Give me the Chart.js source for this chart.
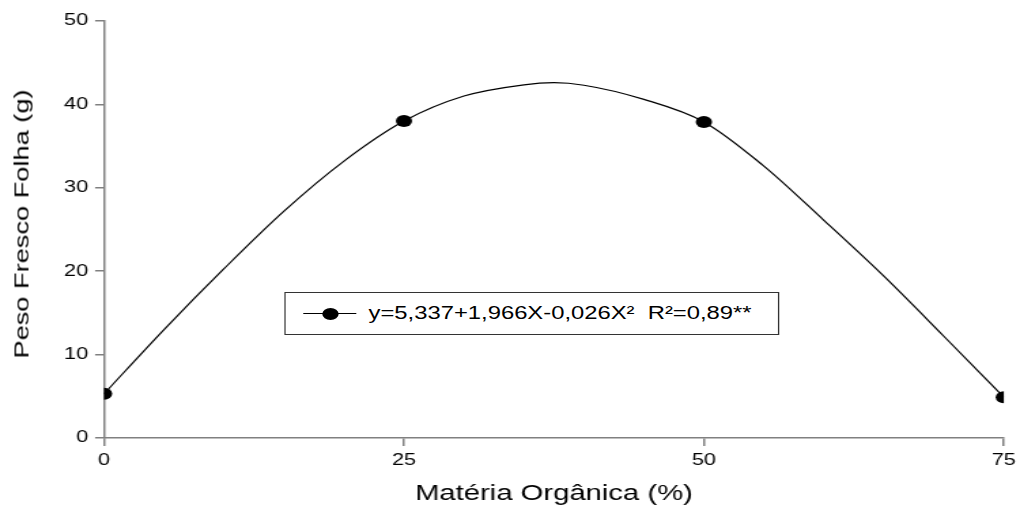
<!DOCTYPE html>
<html>
<head>
<meta charset="utf-8">
<script src="https://cdn.jsdelivr.net/npm/chart.js@4.4.1/dist/chart.umd.min.js"></script>
<style>
    html, body { margin: 0; padding: 0; background: #fff; overflow: hidden; }
    /* a figura original é esticada na horizontal */
    #wrap {
        position: absolute; left: 0; top: 0;
        width: 752px; height: 510px;
        transform: scaleX(1.36); transform-origin: 0 0;
    }
    #legend {
        position: absolute; left: 209px; top: 292px;
        width: 362px; height: 41px;
        border: 1px solid #333; background: #fff;
        font-family: "Liberation Sans", Arial, sans-serif; font-size: 17.5px; color: #000;
    }
    #legend .line { position: absolute; left: 13px; top: 20px; width: 39px; height: 1px; background: #000; }
    #legend .dot  { position: absolute; left: 27px; top: 15px; width: 12px; height: 12px; border-radius: 50%; background: #000; }
    #legend .txt  { position: absolute; left: 61px; top: 10px; white-space: nowrap; }
    /* título do eixo Y: mesma fonte larga, girada */
    #ytitle {
        position: absolute; left: 22px; top: 224px;
        transform: translate(-50%, -50%) rotate(-90deg) scaleX(1.36);
        font-family: "Liberation Sans", Arial, sans-serif; font-size: 20px; color: #000;
        white-space: nowrap;
    }
</style>
</head>
<body>
<div id="wrap">
    <canvas id="chart"></canvas>
    <div id="legend">
        <div class="line"></div><div class="dot"></div>
        <div class="txt">y=5,337+1,966X-0,026X²&nbsp; R²=0,89**</div>
    </div>
</div>
<div id="ytitle">Peso Fresco Folha (g)</div>
<script>
// Pontos observados
const obsX = [0, 25, 50, 75];
const obsY = [5.3, 38.0, 37.9, 4.9];

// Curva ajustada
const curveX = [0, 5, 10, 15, 20, 25, 30, 35, 37.5, 40, 45, 50, 55, 60, 65, 70, 75];
const curveY = [5.3, 13.0, 20.3, 27.2, 33.2, 38.0, 41.0, 42.35, 42.6, 42.3, 40.6, 37.9, 32.6, 26.1, 19.4, 12.2, 4.9];

const xTicks = [0, 25, 50, 75];
const yTicks = [0, 10, 20, 30, 40, 50];

const FONT = '"Liberation Sans", Arial, sans-serif';
const AXIS = '#808080';

const ctx = document.getElementById('chart').getContext('2d');
new Chart(ctx, {
    type: 'scatter',
    data: {
        datasets: [
            {
                label: 'curva',
                data: curveX.map((x, i) => ({ x, y: curveY[i] })),
                showLine: true,
                pointRadius: 0,
                borderColor: '#000',
                borderWidth: 1.2,
                cubicInterpolationMode: 'monotone',
                fill: false
            },
            {
                label: 'obs',
                data: obsX.map((x, i) => ({ x, y: obsY[i] })),
                pointRadius: 6,
                pointHoverRadius: 6,
                backgroundColor: '#000',
                borderColor: '#000',
                borderWidth: 0
            }
        ]
    },
    options: {
        responsive: true,
        maintainAspectRatio: false,
        animation: false,
        layout: { padding: { top: 21, right: 12, bottom: 0, left: 0 } },
        plugins: {
            legend: { display: false },
            tooltip: { enabled: false }
        },
        scales: {
            x: {
                type: 'linear',
                min: 0, max: 75,
                afterBuildTicks: s => { s.ticks = xTicks.map(v => ({ value: v })); },
                afterFit: s => { s.height = 72; },
                ticks: { color: '#000', font: { family: FONT, size: 16 }, padding: 5 },
                grid: { drawOnChartArea: false, tickLength: 8, color: AXIS, lineWidth: 1.5 },
                border: { color: AXIS, width: 1.5 },
                title: {
                    display: true,
                    text: 'Matéria Orgânica (%)',
                    color: '#000',
                    font: { family: FONT, size: 21.5 },
                    padding: { top: 0, bottom: 3 }
                }
            },
            y: {
                min: 0, max: 50,
                afterBuildTicks: s => { s.ticks = yTicks.map(v => ({ value: v })); },
                afterFit: s => { s.width = 76.5; },
                ticks: { color: '#000', font: { family: FONT, size: 16 }, padding: 5 },
                grid: { drawOnChartArea: false, tickLength: 6.6, color: AXIS, lineWidth: 1.5 },
                border: { color: AXIS, width: 1.5 },
                title: { display: false }
            }
        }
    }
});
</script>
</body>
</html>
